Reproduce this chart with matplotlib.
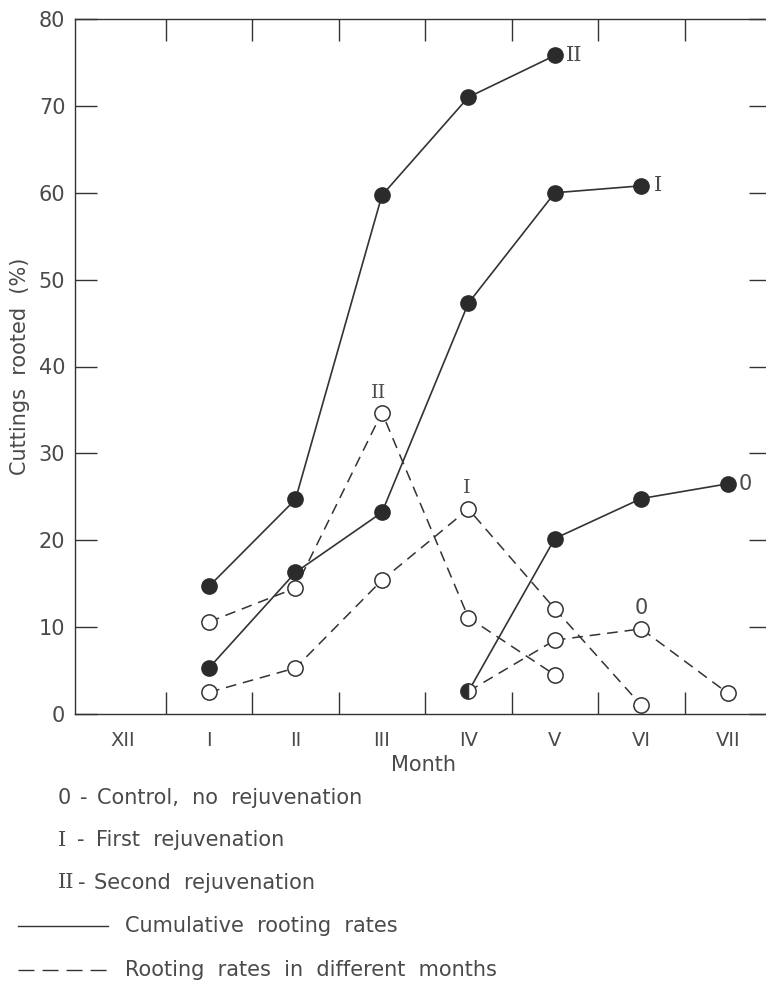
import numpy as np
import matplotlib.pyplot as plt
from matplotlib.lines import Line2D

months = ['XII', 'I', 'II', 'III', 'IV', 'V', 'VI', 'VII']

# cumulative rooting rates (solid, filled markers)
cum0_x = [4, 5, 6, 7]
cum0 = [2.6, 20.2, 24.8, 26.5]
cum1_x = [1, 2, 3, 4, 5, 6]
cum1 = [5.3, 16.3, 23.2, 47.3, 60.0, 60.8]
cum2_x = [1, 2, 3, 4, 5]
cum2 = [14.7, 24.7, 59.7, 71.0, 75.8]

# rooting rates in different months (dashed, open markers)
rate0_x = [4, 5, 6, 7]
rate0 = [2.6, 8.5, 9.8, 2.4]
rate1_x = [1, 2, 3, 4, 5, 6]
rate1 = [2.5, 5.3, 15.4, 23.6, 12.1, 1.0]
rate2_x = [1, 2, 3, 4, 5]
rate2 = [10.6, 14.5, 34.7, 11.1, 4.5]

ink = '#333333'
txt = '#4a4a4a'
serif = ['DejaVu Serif']

fig = plt.figure(figsize=(7.66, 9.81), dpi=100)
ax = fig.add_axes([75/766, 267/981, 696/766, 695/981])

dash = (0, (7, 4.5))
ms = 11
for xs, ys in [(rate2_x, rate2), (rate1_x, rate1), (rate0_x[1:], rate0[1:])]:
    ax.plot(xs, ys, ls=dash, color=ink, lw=1.1, zorder=2)
    ax.plot(xs, ys, ls='none', marker='o', ms=ms, mfc='white', mec=ink, mew=1.1, zorder=4)
ax.plot(rate0_x[:2], rate0[:2], ls=dash, color=ink, lw=1.1, zorder=2)

for xs, ys in [(cum2_x, cum2), (cum1_x, cum1)]:
    ax.plot(xs, ys, '-', color=ink, lw=1.2, marker='o', ms=ms, mfc='#2b2b2b', mec='#2b2b2b', zorder=3)
ax.plot(cum0_x, cum0, '-', color=ink, lw=1.2, zorder=3)
ax.plot(cum0_x[1:], cum0[1:], ls='none', marker='o', ms=ms, mfc='#2b2b2b', mec='#2b2b2b', zorder=3)
ax.plot(cum0_x[0], cum0[0], ls='none', marker='o', ms=ms, fillstyle='left',
        mfc='#2b2b2b', mfcalt='white', mec=ink, mew=1.1, zorder=5)

# curve labels
ax.annotate('II', (cum2_x[-1], cum2[-1]), xytext=(11, 0), textcoords='offset pixels',
            ha='left', va='center', fontsize=15, color=txt, family=serif)
ax.annotate('I', (cum1_x[-1], cum1[-1]), xytext=(13, 0), textcoords='offset pixels',
            ha='left', va='center', fontsize=15, color=txt, family=serif)
ax.annotate('0', (cum0_x[-1], cum0[-1]), xytext=(11, 0), textcoords='offset pixels',
            ha='left', va='center', fontsize=15, color=txt)
ax.annotate('II', (rate2_x[2], rate2[2]), xytext=(-3, 20), textcoords='offset pixels',
            ha='center', va='center', fontsize=14, color=txt, family=serif)
ax.annotate('I', (rate1_x[3], rate1[3]), xytext=(-2, 21), textcoords='offset pixels',
            ha='center', va='center', fontsize=14, color=txt, family=serif)
ax.annotate('0', (rate0_x[2], rate0[2]), xytext=(0, 21), textcoords='offset pixels',
            ha='center', va='center', fontsize=15, color=txt)

ax.set_xlim(-0.55, 7.5)
ax.set_ylim(0, 80)
ax.set_yticks(np.arange(0, 81, 10))
ax.set_xticks(range(len(months)))
ax.set_xticklabels(months)
ax.set_xticks(np.arange(0.5, 7.0, 1.0), minor=True)
ax.tick_params(axis='y', which='major', direction='in', length=16, width=1.0,
               color=ink, left=True, right=True, labelsize=15, labelcolor=txt, pad=7)
ax.tick_params(axis='x', which='major', length=0, labelsize=14, labelcolor=txt, pad=12)
ax.tick_params(axis='x', which='minor', direction='in', length=15.5, width=1.0,
               color=ink, bottom=True, top=True)
for s in ax.spines.values():
    s.set_color(ink)
    s.set_linewidth(1.0)

ax.set_ylabel('Cuttings  rooted  (%)', fontsize=15, color=txt, labelpad=6)
ax.set_xlabel('Month', fontsize=15, color=txt, labelpad=4)

# key below the chart
fs = 15
fig.text(58/766, 1 - 798/981, '0', fontsize=fs, color=txt, va='center')
fig.text(80/766, 1 - 798/981, '-', fontsize=fs, color=txt, va='center')
fig.text(97/766, 1 - 798/981, 'Control,  no  rejuvenation', fontsize=fs, color=txt, va='center')
fig.text(58/766, 1 - 840/981, 'I', fontsize=fs, color=txt, va='center', family=serif)
fig.text(77/766, 1 - 840/981, '-', fontsize=fs, color=txt, va='center')
fig.text(96/766, 1 - 840/981, 'First  rejuvenation', fontsize=fs, color=txt, va='center')
fig.text(58/766, 1 - 883/981, 'II', fontsize=fs, color=txt, va='center', family=serif)
fig.text(78/766, 1 - 883/981, '-', fontsize=fs, color=txt, va='center')
fig.text(94/766, 1 - 883/981, 'Second  rejuvenation', fontsize=fs, color=txt, va='center')
fig.add_artist(Line2D([18/766, 108/766], [1 - 926/981] * 2, color=ink, lw=1.0))
fig.text(125/766, 1 - 926/981, 'Cumulative  rooting  rates', fontsize=fs, color=txt, va='center')
fig.add_artist(Line2D([18/766, 108/766], [1 - 970/981] * 2, color=ink, lw=1.0, ls=(0, (11.5, 5.8))))
fig.text(125/766, 1 - 970/981, 'Rooting  rates  in  different  months', fontsize=fs, color=txt, va='center')

fig.savefig('out.png', dpi=100)
